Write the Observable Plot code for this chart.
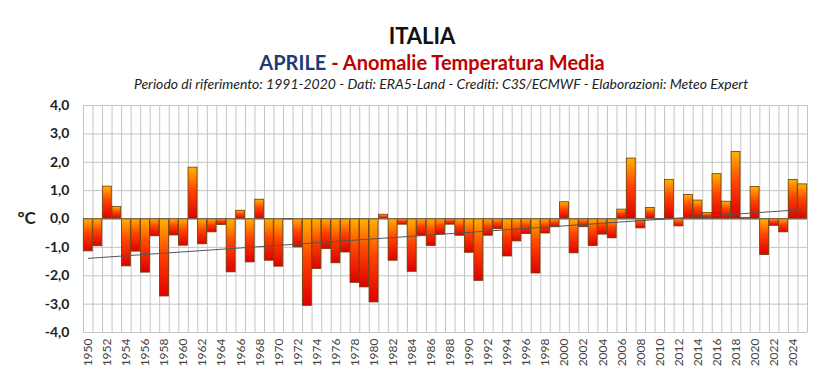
<!DOCTYPE html>
<html>
<head>
<meta charset="utf-8">
<script src="https://cdn.jsdelivr.net/npm/d3@7"></script>
<script src="https://cdn.jsdelivr.net/npm/@observablehq/plot@0.6"></script>
<style>
  html, body { margin: 0; padding: 0; background: #fff; }
  #wrap { width: 821px; height: 383px; position: relative; overflow: hidden; }
  #titles { height: 95px; position: relative; font-family: Lato, "Open Sans", sans-serif; }
  #t1 { position: absolute; left: 0; width: 844px; top: 25px; text-align: center; font-weight: bold; font-size: 22px; color: #111; line-height: 1; }
  #t2 { position: absolute; left: 0; width: 864px; top: 52px; text-align: center; font-weight: bold; font-size: 20px; line-height: 1; }
  #t2 .a { color: #1f3a78; }
  #t2 .b { color: #c00000; }
  #t3 { position: absolute; left: 0; width: 882px; top: 77px; text-align: center; font-style: italic; font-size: 14px; color: #222; line-height: 1; }
  svg [aria-label="y-axis tick label"] text { font-weight: bold; font-size: 14px; }
</style>
</head>
<body>
<div id="wrap">
  <div id="titles">
    <div id="t1">ITALIA</div>
    <div id="t2"><span class="a">APRILE</span><span class="b"> - Anomalie Temperatura Media</span></div>
    <div id="t3">Periodo di riferimento: 1991-2020 - Dati: ERA5-Land - Crediti: C3S/ECMWF - Elaborazioni: Meteo Expert</div>
  </div>
  <div id="chart"></div>
</div>
<script>
const years = d3.range(1950, 2026);
const anomalies = [
  -1.14, -0.96, 1.14, 0.42, -1.67, -1.15, -1.89, -0.61, -2.73, -0.58,
  -0.94, 1.81, -0.89, -0.47, -0.21, -1.88, 0.29, -1.53, 0.68, -1.47,
  -1.68, -0.02, -1.00, -3.06, -1.76, -1.06, -1.56, -1.18, -2.25, -2.41,
  -2.94, 0.15, -1.47, -0.20, -1.86, -0.59, -0.95, -0.55, -0.20, -0.59,
  -1.19, -2.18, -0.59, -0.36, -1.32, -0.79, -0.53, -1.92, -0.51, -0.29,
  0.59, -1.21, -0.29, -0.95, -0.55, -0.68, 0.33, 2.13, -0.33, 0.39,
  -0.02, 1.38, -0.26, 0.85, 0.65, 0.21, 1.58, 0.61, 2.36, 0.04,
  1.13, -1.27, -0.24, -0.47, 1.38, 1.22
];
const yTicks = [-4, -3, -2, -1, 0, 1, 2, 3, 4];
const xTickYears = d3.range(1950, 2025, 2);
const unitLabel = ["°C"];

const data = years.map((year, i) => ({year, value: anomalies[i]}));
const gridX = d3.range(years[0] - 0.5, years[years.length - 1] + 1, 1);

const plot = Plot.plot({
  width: 821,
  height: 288,
  marginTop: 10,
  marginBottom: 51,
  marginLeft: 83,
  marginRight: 14,
  style: {fontFamily: "Lato, 'Open Sans', sans-serif", fontSize: "12px", color: "#222", background: "#fff"},
  x: {domain: [years[0] - 0.5, years[years.length - 1] + 0.5]},
  y: {domain: [-4, 4]},
  marks: [
    Plot.ruleX(gridX, {stroke: "#c4c4c4", strokeWidth: 1}),
    Plot.ruleY(yTicks, {stroke: "#c4c4c4", strokeWidth: 1}),
    Plot.rectY(data, {
      x1: d => d.year - 0.47,
      x2: d => d.year + 0.47,
      y1: 0,
      y2: "value",
      fill: "url(#barGrad)",
      stroke: "#6a3a05",
      strokeWidth: 0.8
    }),
    Plot.ruleY([0], {stroke: "#7a7a7a", strokeWidth: 1.2}),
    Plot.linearRegressionY(data, {x: "year", y: "value", stroke: "#555", strokeWidth: 1, ci: 0}),
    Plot.axisY({ticks: yTicks, tickFormat: d => d.toFixed(1).replace(".", ","), tickSize: 0, tickPadding: 14, label: null, fill: "#222"}),
    Plot.axisX({ticks: xTickYears, tickFormat: d => String(d), tickSize: 0, tickPadding: 6, tickRotate: -90, label: null, fill: "#444", fontSize: 12}),
    Plot.text(unitLabel, {y: [0], frameAnchor: "left", dx: -66, textAnchor: "start", text: d => d, fontWeight: "bold", fontSize: 17, fill: "#222"})
  ]
});

d3.select(plot).insert("defs", ":first-child").html(`
  <linearGradient id="barGrad" x1="0" y1="0" x2="0" y2="1">
    <stop offset="0%" stop-color="#ffb400"/>
    <stop offset="45%" stop-color="#ff4400"/>
    <stop offset="100%" stop-color="#e00000"/>
  </linearGradient>`);

document.getElementById("chart").appendChild(plot);
</script>
</body>
</html>
